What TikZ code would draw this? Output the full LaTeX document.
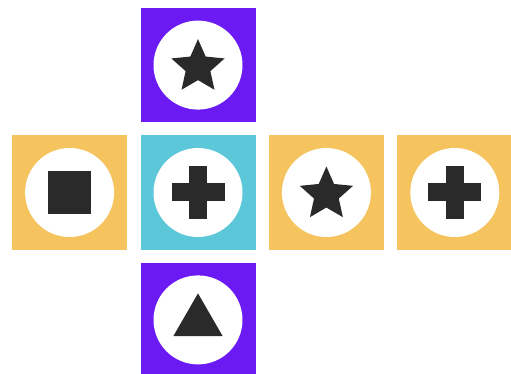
\documentclass[tikz,border=0pt]{standalone}
\usepackage{tikz}
\usetikzlibrary{positioning,shapes.geometric}
\definecolor{tilepurple}{HTML}{6C1AF4}
\definecolor{tileorange}{HTML}{F5C45E}
\definecolor{tilecyan}{HTML}{5BC7D9}
\definecolor{icondark}{HTML}{2A2A2A}

\begin{document}
\begin{tikzpicture}[
  x=1pt, y=1pt,
  node distance=13pt,
  tile/.style={rectangle, inner sep=0pt, minimum width=115pt, minimum height=114pt},
  ptile/.style={tile, fill=tilepurple},
  otile/.style={tile, fill=tileorange},
  ctile/.style={tile, fill=tilecyan},
  disc/.style={circle, fill=white, inner sep=0pt, minimum size=89pt},
  glyph/.style={fill=icondark, draw=none, inner sep=0pt},
  starglyph/.style={glyph, star, star points=5, star point ratio=2.15, minimum size=56pt},
  triglyph/.style={glyph, regular polygon, regular polygon sides=3, minimum size=57pt},
  sqglyph/.style={glyph, rectangle, minimum size=43pt},
  barglyph/.style={glyph, rectangle, minimum width=53pt, minimum height=18pt}]
\useasboundingbox (0,0) rectangle (511,-374);
% tiles
\node[ctile] (mid) at (198,-192.5) {};
\node[ptile, above=of mid] (top) {};
\node[ptile, below=of mid] (bot) {};
\node[otile, left=of mid] (left) {};
\node[otile, right=of mid] (right) {};
\node[otile, right=of right] (far) {};
\foreach \t in {top,mid,bot,left,right,far}
  \node[disc] (\t disc) at (\t) {};
% glyphs
\node[starglyph] (topstar) at ([yshift=-2pt]top.center) {};
\node[starglyph] (rightstar) at ([yshift=-2pt]right.center) {};
\node[triglyph] (bottri) at ([yshift=-2pt]bot.center) {};
\node[sqglyph] (leftsq) at (left) {};
\node[barglyph] (midh) at (mid) {};
\node[barglyph, rotate=90] (midv) at (mid) {};
\node[barglyph] (farh) at (far) {};
\node[barglyph, rotate=90] (farv) at (far) {};
\end{tikzpicture}
\end{document}
